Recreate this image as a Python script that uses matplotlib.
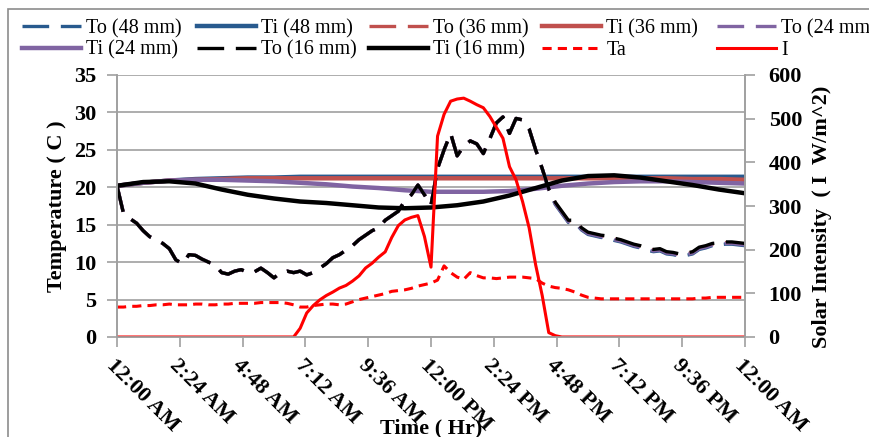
import numpy as np
import matplotlib
matplotlib.use("Agg")
from matplotlib import pyplot as plt
from matplotlib.patches import Rectangle

plt.rcParams['font.family'] = ['Liberation Serif', 'DejaVu Serif']

# time axis (hours after midnight), 15 min readings
hours = np.arange(0, 24.01, 0.25)
hours_ti = np.arange(0, 25, 1)

tick_labels = ["12:00 AM", "2:24 AM", "4:48 AM", "7:12 AM", "9:36 AM", "12:00 PM",
               "2:24 PM", "4:48 PM", "7:12 PM", "9:36 PM", "12:00 AM"]

# outer surface temperatures (C)
to_16 = [20.2, 16.5, 15.8, 15.2, 14.2, 13.4, 13.0, 12.5, 11.8, 10.3, 9.8, 11.0, 10.9,
         10.4, 10.0, 9.6, 8.6, 8.4, 8.8, 9.0, 8.6, 8.7, 9.2, 8.6, 7.9, 8.6, 8.8, 8.6,
         8.8, 8.3, 8.6, 9.2, 9.8, 10.6, 11.0, 11.6, 12.2, 13.0, 13.6, 14.2, 14.6, 15.6,
         16.2, 16.8, 18.2, 19.0, 20.3, 19.0, 17.6, 22.5, 25.0, 27.2, 24.2, 25.5, 26.2,
         25.8, 24.5, 26.5, 28.6, 29.4, 27.2, 29.2, 29.0, 27.8, 25.0, 22.5, 19.8, 18.0,
         16.8, 15.6, 15.6, 14.6, 14.0, 13.8, 13.6, 13.5, 13.2, 13.0, 12.7, 12.4, 12.2,
         11.9, 11.7, 11.8, 11.4, 11.3, 11.1, 11.2, 11.4, 12.0, 12.2, 12.5, 12.6, 12.7,
         12.7, 12.6, 12.5]
to_24 = [20.2, 16.5, 15.8, 15.2, 14.2, 13.4, 13.0, 12.5, 11.8, 10.3, 9.8, 11.0, 10.9,
         10.4, 10.0, 9.6, 8.6, 8.4, 8.8, 9.0, 8.6, 8.7, 9.2, 8.6, 7.9, 8.6, 8.8, 8.6,
         8.8, 8.3, 8.6, 9.2, 9.8, 10.6, 11.0, 11.6, 12.2, 13.0, 13.6, 14.2, 14.6, 15.6,
         16.2, 16.8, 18.2, 19.0, 20.3, 19.0, 17.6, 22.5, 25.0, 27.2, 24.2, 25.5, 26.2,
         25.8, 24.5, 26.5, 28.6, 29.4, 27.2, 29.2, 29.0, 27.8, 25.0, 22.5, 19.7, 17.8,
         16.6, 15.4, 15.4, 14.4, 13.8, 13.6, 13.4, 13.3, 13.0, 12.8, 12.5, 12.2, 12.0,
         11.7, 11.5, 11.6, 11.2, 11.1, 10.9, 11.0, 11.2, 11.8, 12.0, 12.3, 12.4, 12.5,
         12.5, 12.4, 12.3]
to_36 = [20.2, 16.5, 15.8, 15.2, 14.2, 13.4, 13.0, 12.5, 11.8, 10.3, 9.8, 11.0, 10.9,
         10.4, 10.0, 9.6, 8.6, 8.4, 8.8, 9.0, 8.6, 8.7, 9.2, 8.6, 7.9, 8.6, 8.8, 8.6,
         8.8, 8.3, 8.6, 9.2, 9.8, 10.6, 11.0, 11.6, 12.2, 13.0, 13.6, 14.2, 14.6, 15.6,
         16.2, 16.8, 18.2, 19.0, 20.3, 19.0, 17.6, 22.5, 25.0, 27.2, 24.2, 25.5, 26.2,
         25.8, 24.5, 26.5, 28.6, 29.4, 27.2, 29.2, 29.0, 27.8, 25.0, 22.5, 19.7, 17.9,
         16.7, 15.5, 15.5, 14.5, 13.9, 13.7, 13.5, 13.4, 13.1, 12.9, 12.6, 12.3, 12.1,
         11.8, 11.6, 11.7, 11.3, 11.2, 11.0, 11.1, 11.3, 11.9, 12.1, 12.4, 12.5, 12.6,
         12.6, 12.5, 12.4]
to_48 = [20.2, 16.5, 15.8, 15.2, 14.2, 13.4, 13.0, 12.5, 11.8, 10.3, 9.8, 11.0, 10.9,
         10.4, 10.0, 9.6, 8.6, 8.4, 8.8, 9.0, 8.6, 8.7, 9.2, 8.6, 7.9, 8.6, 8.8, 8.6,
         8.8, 8.3, 8.6, 9.2, 9.8, 10.6, 11.0, 11.6, 12.2, 13.0, 13.6, 14.2, 14.6, 15.6,
         16.2, 16.8, 18.2, 19.0, 20.3, 19.0, 17.6, 22.5, 25.0, 27.2, 24.2, 25.5, 26.2,
         25.8, 24.5, 26.5, 28.6, 29.4, 27.2, 29.2, 29.0, 27.8, 25.0, 22.5, 19.6, 17.7,
         16.5, 15.3, 15.3, 14.3, 13.7, 13.5, 13.3, 13.2, 12.9, 12.7, 12.4, 12.1, 11.9,
         11.6, 11.4, 11.5, 11.1, 11.0, 10.8, 10.9, 11.1, 11.7, 11.9, 12.2, 12.3, 12.4,
         12.4, 12.3, 12.2]

# inner temperatures (hourly, C)
ti_48 = [20.2, 20.6, 20.9, 21.1, 21.2, 21.3, 21.3, 21.4, 21.4, 21.4, 21.4, 21.4, 21.4,
         21.4, 21.4, 21.4, 21.4, 21.4, 21.4, 21.4, 21.4, 21.4, 21.4, 21.4, 21.4]
ti_36 = [20.2, 20.6, 20.9, 21.0, 21.1, 21.2, 21.2, 21.2, 21.2, 21.2, 21.2, 21.2, 21.2,
         21.2, 21.2, 21.2, 21.2, 21.2, 21.2, 21.2, 21.2, 21.2, 21.1, 21.1, 21.0]
ti_24 = [20.2, 20.6, 20.9, 21.0, 21.0, 20.9, 20.8, 20.6, 20.4, 20.1, 19.9, 19.6, 19.4,
         19.4, 19.4, 19.5, 19.8, 20.2, 20.5, 20.7, 20.8, 20.8, 20.7, 20.6, 20.5]
ti_16 = [20.2, 20.7, 20.8, 20.5, 19.7, 19.0, 18.5, 18.1, 17.9, 17.6, 17.3, 17.2, 17.3,
         17.6, 18.1, 18.9, 19.9, 20.9, 21.5, 21.6, 21.3, 20.8, 20.3, 19.7, 19.2]

# ambient temperature (C)
ta = [4.0, 4.0, 4.1, 4.1, 4.2, 4.2, 4.3, 4.3, 4.4, 4.3, 4.3, 4.3, 4.4, 4.4, 4.3, 4.3,
      4.4, 4.4, 4.5, 4.5, 4.5, 4.5, 4.6, 4.6, 4.6, 4.6, 4.5, 4.3, 4.0, 4.0, 4.2, 4.3,
      4.4, 4.4, 4.3, 4.4, 4.7, 5.0, 5.2, 5.4, 5.6, 5.8, 6.1, 6.2, 6.3, 6.5, 6.8, 7.0,
      7.2, 7.6, 9.5, 8.6, 8.0, 7.7, 8.6, 8.2, 7.9, 7.9, 7.8, 7.9, 8.0, 8.0, 8.0, 7.9,
      7.8, 7.2, 6.8, 6.6, 6.5, 6.3, 6.0, 5.6, 5.3, 5.2, 5.1, 5.1, 5.1, 5.1, 5.1, 5.1,
      5.1, 5.1, 5.1, 5.1, 5.1, 5.1, 5.1, 5.1, 5.1, 5.2, 5.2, 5.3, 5.3, 5.3, 5.3, 5.3,
      5.3]

# solar intensity (W/m^2)
solar = [0, 0, 0, 0, 0, 0, 0, 0, 0, 0, 0, 0, 0, 0, 0, 0, 0, 0, 0, 0, 0, 0, 0, 0, 0, 0,
         0, 0, 20, 55, 72, 85, 95, 103, 112, 118, 128, 140, 158, 169, 183, 195, 228, 255,
         268, 274, 278, 230, 160, 460, 510, 540, 545, 547, 540, 532, 525, 505, 480, 455,
         390, 360, 310, 250, 165, 95, 10, 3, 0, 0, 0, 0, 0, 0, 0, 0, 0, 0, 0, 0, 0, 0, 0,
         0, 0, 0, 0, 0, 0, 0, 0, 0, 0, 0, 0, 0, 0]

blue = '#285A8E'
brick = '#C0504D'
purple = '#8064A2'
grey = '#a0a0a0'
long_dash = (8, 3.5)

fig = plt.figure(figsize=(8.7, 4.37), dpi=100)
ax = fig.add_axes([117 / 870, 1 - 337 / 437, 628 / 870, 262 / 437])
ax2 = ax.twinx()

h = []
h.append(ax.plot(hours, to_48, color=blue, lw=2.4, dashes=long_dash, label='To (48 mm)')[0])
h.append(ax.plot(hours_ti, ti_48, color=blue, lw=3.2, label='Ti (48 mm)')[0])
h.append(ax.plot(hours, to_36, color=brick, lw=2.4, dashes=long_dash, label='To (36 mm)')[0])
h.append(ax.plot(hours_ti, ti_36, color=brick, lw=3.2, label='Ti (36 mm)')[0])
h.append(ax.plot(hours, to_24, color=purple, lw=2.4, dashes=long_dash, label='To (24 mm)')[0])
h.append(ax.plot(hours_ti, ti_24, color=purple, lw=3.2, label='Ti (24 mm)')[0])
h.append(ax.plot(hours, to_16, color='black', lw=2.4, dashes=long_dash, label='To (16 mm)')[0])
h.append(ax.plot(hours_ti, ti_16, color='black', lw=3.2, label='Ti (16 mm)')[0])
h.append(ax.plot(hours, ta, color='#FF0000', lw=2.2, dashes=(3, 2), label='Ta')[0])
h.append(ax2.plot(hours, solar, color='#FF0000', lw=2.2, label='I')[0])

ax.set_xlim(0, 24)
ax.set_ylim(0, 35)
ax2.set_ylim(0, 600)
ax.set_yticks(np.arange(0, 36, 5))
ax2.set_yticks(np.arange(0, 601, 100))
ax.set_xticks(np.linspace(0, 24, 11))
ax.set_xticklabels(tick_labels, rotation=-45, ha='left', va='top',
                   rotation_mode='anchor', fontweight='bold', fontsize=16)

ax.grid(axis='y', color=grey, lw=1.2)
ax.set_axisbelow(True)
for a in (ax, ax2):
    a.spines['top'].set_visible(False)
    for s in ('left', 'right', 'bottom'):
        a.spines[s].set_color(grey)
        a.spines[s].set_linewidth(1.2)
ax.tick_params(axis='y', direction='out', length=7, color=grey, width=1.2, pad=8, labelsize=16)
ax.tick_params(axis='x', direction='out', length=7, color=grey, width=1.2, pad=6)
ax2.tick_params(axis='y', direction='out', length=7, color=grey, width=1.2, pad=10, labelsize=16)
for lbl in ax.get_yticklabels() + ax2.get_yticklabels():
    lbl.set_fontweight('bold')

ax.set_xlabel('Time ( Hr)', fontsize=16, fontweight='bold')
ax.xaxis.set_label_coords(0.5, -0.31)
ax.set_ylabel('Temperature ( C )', fontsize=16, fontweight='bold')
ax.yaxis.set_label_coords(-0.08, 0.5)
ax2.set_ylabel('Solar Intensity  ( I  W/m^2)', fontsize=16, fontweight='bold')
ax2.yaxis.set_label_coords(1.107, 0.46)

# legend in equal-width columns, one small legend per column
col_x = [22, 197, 369, 542, 717]
for c, x in enumerate(col_x):
    pair = [h[c], h[c + 5]]
    fig.legend(pair, [p.get_label() for p in pair], loc='upper left',
               bbox_to_anchor=(x / 870, 1 - 19 / 437), frameon=False,
               fontsize=14.5, handlelength=2.95, handletextpad=0.25,
               labelspacing=0.12, borderpad=0, borderaxespad=0)

fig.add_artist(Rectangle((8 / 870, -0.05), 1.05, 1.05 - 9 / 437, transform=fig.transFigure,
                         fill=False, edgecolor='#8c8c8c', lw=1.2))

fig.savefig('out.png', dpi=100)
